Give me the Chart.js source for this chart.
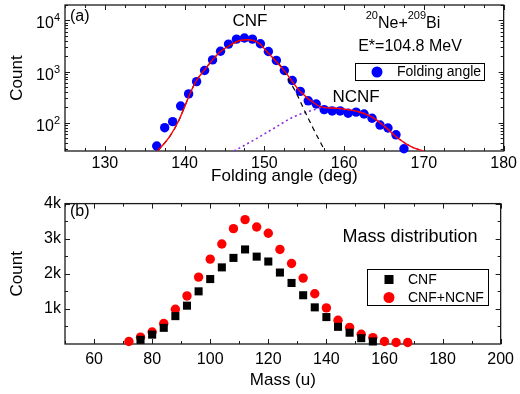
<!DOCTYPE html>
<html>
<head>
<meta charset="utf-8">
<script src="https://cdn.jsdelivr.net/npm/chart.js@4.4.1/dist/chart.umd.min.js"></script>
<style>
    html, body { margin: 0; padding: 0; background: #fff; }
    #wrap { position: relative; width: 520px; height: 394px; }
    #top { position: absolute; left: 0; top: 0; }
    #bottom { position: absolute; left: 0; top: 190px; }
</style>
</head>
<body>
<div id="wrap">
    <canvas id="top" width="520" height="190"></canvas>
    <canvas id="bottom" width="520" height="204"></canvas>
</div>
<script>
// ---- (a) folding angle distribution ----
const angle = [136.5, 137.5, 138.5, 139.5, 140.5, 141.5, 142.5, 143.5, 144.5, 145.5,
               146.5, 147.5, 148.5, 149.5, 150.5, 151.5, 152.5, 153.5, 154.5, 155.5,
               156.5, 157.5, 158.5, 159.5, 160.5, 161.5, 162.5, 163.5, 164.5, 165.5,
               166.5, 167.5];
const angleCount = [35, 80, 105, 212, 366, 637, 1050, 1690, 2500, 3440,
                    4300, 4520, 4310, 3490, 2470, 1650, 1050, 670, 410, 268,
                    232, 180, 170, 170, 153, 161, 148, 122, 90, 79,
                    58, 31];

// fitted curves
const sumFitAngle = [136.6, 138.1, 139.3, 140.0, 140.6, 141.4, 142.5, 143.5, 144.5, 145.8,
                     146.8, 147.9, 149.3, 150.3, 152.4, 154.5, 156.6, 157.4, 159.3, 161.8,
                     163.4, 165.1, 166.8, 168.4, 169.9];
const sumFitCount = [28, 53, 113, 206, 349, 637, 1079, 1693, 2466, 3342,
                     4000, 4190, 3600, 2466, 1079, 408, 222, 200, 191, 164,
                     131, 84, 49, 34, 28];
const cnfFitAngle = [136.6, 138.1, 139.3, 140.0, 140.6, 141.4, 142.5, 143.5, 144.5, 145.8,
                     146.8, 147.9, 149.3, 150.3, 152.4, 152.8, 153.9, 154.9, 156.0, 157.0, 157.6];
const cnfFitCount = [28, 53, 113, 206, 349, 637, 1079, 1693, 2466, 3342,
                     4000, 4190, 3600, 2466, 1079, 798, 408, 191, 84, 42, 28];
const ncnfFitAngle = [146.2, 148.7, 151.2, 153.7, 156.2, 157.4, 158.3, 159.3, 161.8, 163.4,
                      165.1, 166.8, 168.4, 169.9];
const ncnfFitCount = [28, 46, 78, 131, 178, 197, 198, 191, 164, 131,
                      84, 49, 34, 28];

const angleTicks = [130, 140, 150, 160, 170, 180];
const logTicks = [100, 1000, 10000];
const logTickExp = ['2', '3', '4'];

// ---- (b) mass distribution ----
const massAll = [72, 76, 80, 84, 88, 92, 96, 100, 104, 108, 112, 116, 120,
                 124, 128, 132, 136, 140, 144, 148, 152, 156, 160, 164, 168];
const countAll = [72, 194, 342, 583, 989, 1369, 1906, 2417, 2850, 3286, 3544, 3333, 3156,
                  2694, 2294, 1878, 1433, 1028, 675, 472, 278, 183, 72, 44, 44];
const massCnf = [76, 80, 84, 88, 92, 96, 100, 104, 108, 112, 116, 120,
                 124, 128, 132, 136, 140, 144, 148, 152, 156];
const countCnf = [119, 267, 461, 794, 1092, 1500, 1850, 2183, 2453, 2694, 2489, 2350,
                  2036, 1739, 1389, 1044, 767, 489, 322, 167, 72];

const massTicks = [60, 80, 100, 120, 140, 160, 180, 200];
const countTicks = [1000, 2000, 3000, 4000];
const countTickLabels = ['1k', '2k', '3k', '4k'];

const FONT = '"Liberation Sans", Arial, sans-serif';

function pts(xs, ys) {
    return xs.map((x, i) => ({ x: x, y: ys[i] }));
}

function font(size) {
    return size + 'px ' + FONT;
}

// box round the plot with inward ticks on all four sides
function drawFrame(chart, xMajor, xMinor, yMajor, yMinor) {
    const c = chart.ctx;
    const a = chart.chartArea;
    const sx = chart.scales.x;
    const sy = chart.scales.y;
    c.save();
    c.strokeStyle = '#1a1a1a';
    c.lineWidth = 1.3;
    c.strokeRect(a.left, a.top, a.right - a.left, a.bottom - a.top);
    c.lineWidth = 1;
    c.beginPath();
    function xt(v, len) {
        const p = Math.round(sx.getPixelForValue(v)) + 0.5;
        c.moveTo(p, a.bottom); c.lineTo(p, a.bottom - len);
        c.moveTo(p, a.top); c.lineTo(p, a.top + len);
    }
    function yt(v, len) {
        const p = Math.round(sy.getPixelForValue(v)) + 0.5;
        c.moveTo(a.left, p); c.lineTo(a.left + len, p);
        c.moveTo(a.right, p); c.lineTo(a.right - len, p);
    }
    xMajor.forEach(v => xt(v, 5));
    xMinor.forEach(v => xt(v, 3));
    yMajor.forEach(v => yt(v, 5));
    yMinor.forEach(v => yt(v, 3));
    c.stroke();
    c.restore();
}

function text(c, str, x, y, size, align) {
    c.font = font(size);
    c.textAlign = align || 'left';
    c.fillText(str, x, y);
}

// minor tick values
const angleMinor = [];
for (let v = 125; v <= 180; v += 2.5) if (v % 10 !== 0) angleMinor.push(v);
const logMinor = [];
[10, 100, 1000, 10000].forEach(d => {
    for (let k = 2; k <= 9; k++) {
        const v = d * k;
        if (v >= 28 && v <= 20000) logMinor.push(v);
    }
});
const massMinor = [];
for (let v = 50; v <= 200; v += 10) if (v % 20 !== 0) massMinor.push(v);
const countMinor = [500, 1500, 2500, 3500];

const topDecor = {
    id: 'topDecor',
    beforeDatasetsDraw(chart) {
        drawFrame(chart, angleTicks, angleMinor, logTicks, logMinor);
    },
    afterDraw(chart) {
        const c = chart.ctx;
        const sy = chart.scales.y;
        c.save();
        c.fillStyle = '#000';
        c.textBaseline = 'alphabetic';

        // log tick labels 10^n
        logTicks.forEach((v, i) => {
            const p = sy.getPixelForValue(v);
            c.font = font(11);
            const we = c.measureText(logTickExp[i]).width;
            c.font = font(16);
            const wb = c.measureText('10').width;
            const x0 = 60 - we - wb;
            text(c, '10', x0, p + 8, 16);
            text(c, logTickExp[i], x0 + wb, p + 1, 11);
        });

        c.textBaseline = 'middle';
        text(c, '(a)', 70, 17, 16);
        text(c, 'CNF', 250, 21, 17, 'center');
        text(c, 'NCNF', 356, 97, 17, 'center');
        text(c, 'E*=104.8 MeV', 410, 47, 16, 'center');

        // 20Ne+209Bi with raised mass numbers
        c.textBaseline = 'alphabetic';
        const parts = [['20', 11, 19], ['Ne+', 16, 28], ['209', 11, 19], ['Bi', 16, 28]];
        let total = 0;
        parts.forEach(p => { c.font = font(p[1]); total += c.measureText(p[0]).width; });
        let x = 403 - total / 2;
        parts.forEach(p => {
            text(c, p[0], x, p[2], p[1]);
            c.font = font(p[1]);
            x += c.measureText(p[0]).width;
        });

        // legend
        c.strokeStyle = '#000';
        c.lineWidth = 1;
        c.strokeRect(355.5, 63.5, 129, 17);
        c.fillStyle = '#0000ff';
        c.beginPath();
        c.arc(377, 72, 5.5, 0, Math.PI * 2);
        c.fill();
        c.fillStyle = '#000';
        c.textBaseline = 'middle';
        text(c, 'Folding angle', 397, 72.5, 14);
        c.restore();
    }
};

const bottomDecor = {
    id: 'bottomDecor',
    beforeDatasetsDraw(chart) {
        drawFrame(chart, massTicks, massMinor, countTicks, countMinor);
    },
    afterDraw(chart) {
        const c = chart.ctx;
        c.save();
        c.fillStyle = '#000';
        c.textBaseline = 'middle';
        text(c, '(b)', 70, 22, 16);
        text(c, 'Mass distribution', 410, 47, 18, 'center');

        // legend
        c.strokeStyle = '#000';
        c.lineWidth = 1;
        c.strokeRect(367.5, 79.5, 121, 36);
        c.fillRect(384.5, 85, 9, 9);
        c.fillStyle = '#ff0000';
        c.beginPath();
        c.arc(389, 107.5, 5.5, 0, Math.PI * 2);
        c.fill();
        c.fillStyle = '#000';
        text(c, 'CNF', 408, 90, 14);
        text(c, 'CNF+NCNF', 408, 108, 14);
        c.restore();
    }
};

const tickFont = { family: FONT, size: 16 };
const titleFont = { family: FONT, size: 17 };

// Top panel: folding angle, log scale
new Chart(document.getElementById('top'), {
    type: 'scatter',
    data: {
        datasets: [
            {
                data: pts(sumFitAngle, sumFitCount),
                showLine: true,
                borderColor: '#ff0000',
                borderWidth: 1.4,
                pointRadius: 0,
                cubicInterpolationMode: 'monotone'
            },
            {
                data: pts(cnfFitAngle, cnfFitCount),
                showLine: true,
                borderColor: '#000',
                borderDash: [5, 4],
                borderWidth: 1.2,
                pointRadius: 0,
                cubicInterpolationMode: 'monotone'
            },
            {
                data: pts(ncnfFitAngle, ncnfFitCount),
                showLine: true,
                borderColor: '#8a2be2',
                borderDash: [2, 3],
                borderWidth: 1.6,
                pointRadius: 0,
                cubicInterpolationMode: 'monotone'
            },
            {
                data: pts(angle, angleCount),
                pointRadius: 4.7,
                pointBackgroundColor: '#0000ff',
                pointBorderWidth: 0,
                clip: false
            }
        ]
    },
    options: {
        responsive: false,
        animation: false,
        layout: { padding: { top: 5, right: 14, left: 0, bottom: 0 } },
        plugins: { legend: { display: false }, tooltip: { enabled: false } },
        scales: {
            x: {
                type: 'linear',
                min: 125,
                max: 180,
                afterBuildTicks: s => { s.ticks = angleTicks.map(v => ({ value: v })); },
                afterFit: s => { s.height = 39; },
                grid: { display: false, drawTicks: false },
                border: { display: false },
                ticks: { font: tickFont, color: '#000', padding: 3, maxRotation: 0 },
                title: { display: true, text: 'Folding angle (deg)', font: titleFont, color: '#000', padding: { top: 0, bottom: 3 } }
            },
            y: {
                type: 'logarithmic',
                min: 28,
                max: 20000,
                afterBuildTicks: s => { s.ticks = logTicks.map(v => ({ value: v })); },
                afterFit: s => { s.width = 65; },
                grid: { display: false, drawTicks: false },
                border: { display: false },
                ticks: { display: false },
                title: { display: true, text: 'Count', font: titleFont, color: '#000', padding: { top: 7, bottom: 0 } }
            }
        }
    },
    plugins: [topDecor]
});

// Bottom panel: mass distribution
new Chart(document.getElementById('bottom'), {
    type: 'scatter',
    data: {
        datasets: [
            {
                data: pts(massCnf, countCnf),
                pointStyle: 'rect',
                pointRadius: 5.7,
                pointBackgroundColor: '#000',
                pointBorderWidth: 0,
                clip: false
            },
            {
                data: pts(massAll, countAll),
                pointRadius: 4.7,
                pointBackgroundColor: '#ff0000',
                pointBorderWidth: 0,
                clip: false
            }
        ]
    },
    options: {
        responsive: false,
        animation: false,
        layout: { padding: { top: 10, right: 14, left: 0, bottom: 0 } },
        plugins: { legend: { display: false }, tooltip: { enabled: false } },
        scales: {
            x: {
                type: 'linear',
                min: 50,
                max: 200,
                afterBuildTicks: s => { s.ticks = massTicks.map(v => ({ value: v })); },
                afterFit: s => { s.height = 50; },
                grid: { display: false, drawTicks: false },
                border: { display: false },
                ticks: { font: tickFont, color: '#000', padding: 6, maxRotation: 0 },
                title: { display: true, text: 'Mass (u)', font: titleFont, color: '#000', padding: { top: 0, bottom: 3 } }
            },
            y: {
                type: 'linear',
                min: 0,
                max: 4000,
                afterBuildTicks: s => { s.ticks = countTicks.map(v => ({ value: v })); },
                afterFit: s => { s.width = 65; },
                grid: { display: false, drawTicks: false },
                border: { display: false },
                ticks: {
                    font: tickFont,
                    color: '#000',
                    padding: 4,
                    callback: v => countTickLabels[countTicks.indexOf(v)]
                },
                title: { display: true, text: 'Count', font: titleFont, color: '#000', padding: { top: 7, bottom: 0 } }
            }
        }
    },
    plugins: [bottomDecor]
});
</script>
</body>
</html>
